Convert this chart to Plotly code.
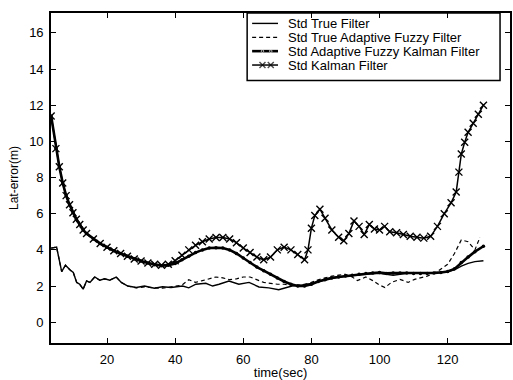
import plotly.graph_objects as go

# ---- data -------------------------------------------------------------
# Std True Filter (thin solid)
t_true = [3.6, 5.2, 6.7, 7.8, 9.1, 10.1, 11.1, 12, 13, 14, 15, 16.4, 17.9, 19.3,
          20.8, 22.7, 24.2, 26.1, 28.6, 31, 33.9, 36.3, 38.8, 42.2, 44, 46.1, 49,
          51, 52.9, 55.8, 58.7, 61.7, 64.6, 67.5, 70.4, 74.3, 77, 80, 84, 88, 92,
          96, 100, 104, 108, 112, 116, 120, 122, 124, 126, 128, 130.5]
std_true = [4.1, 4.15, 2.8, 3.15, 2.9, 2.75, 2.2, 2.1, 1.83, 2.28, 2.2, 2.5, 2.32, 2.4,
            2.32, 2.5, 2.2, 2.0, 1.92, 2.0, 1.88, 1.96, 1.92, 2.0, 1.9, 2.1, 2.15,
            2.0, 2.1, 2.28, 2.1, 2.2, 1.95, 1.9, 1.8, 2.0, 2.05, 2.15, 2.35, 2.5, 2.6,
            2.65, 2.7, 2.6, 2.7, 2.7, 2.75, 2.8, 2.9, 3.1, 3.25, 3.35, 3.4]

# Std True Adaptive Fuzzy Filter (dashed)
t_taff = [3.6, 5.2, 6.7, 7.8, 9.1, 10.1, 11.1, 12, 13, 14, 15, 16.4, 17.9, 19.3,
          20.8, 22.7, 24.2, 26.1, 28.6, 31, 33.9, 36.3, 38.8, 42, 44, 46, 48, 50,
          52, 54, 56, 58, 60, 62, 64, 66, 68, 70, 72, 74, 76, 78, 80, 82, 84, 86,
          88, 90, 92, 93.5, 96, 98, 100, 101.6, 103.5, 106, 108.4, 110.3, 114,
          117, 120, 122, 124, 126, 128, 129.5]
std_taff = [4.1, 4.15, 2.8, 3.15, 2.9, 2.75, 2.2, 2.1, 1.83, 2.28, 2.2, 2.5, 2.32, 2.4,
            2.32, 2.5, 2.2, 2.0, 1.9, 1.95, 1.9, 1.88, 1.95, 2.05, 2.35, 2.2, 2.3, 2.4,
            2.5, 2.45, 2.35, 2.4, 2.5, 2.5, 2.35, 2.2, 2.15, 2.1, 2.1, 2.05, 2.05, 2.1,
            2.2, 2.35, 2.45, 2.55, 2.6, 2.65, 2.5, 2.3, 2.5, 2.3, 2.05, 1.92, 2.2,
            2.37, 2.2, 2.37, 2.55, 2.8, 3.2, 3.8, 4.55, 4.45, 4.0, 4.7]

# Std Adaptive Fuzzy Kalman Filter (thick, dot markers)
t_afkf = [3.6, 5, 6, 7, 8, 9, 10, 11, 12, 13, 14, 16, 18, 20, 22, 24, 26, 28, 30,
          32, 34, 36, 38, 40, 42, 44, 46, 48, 50, 52, 54, 56, 58, 60, 62, 64, 66,
          68, 70, 72, 74, 76, 78, 80, 82, 84, 86, 88, 90, 92, 94, 96, 98, 100, 102,
          104, 106, 108, 110, 112, 114, 116, 118, 120, 122, 124, 126, 128, 130.5]
std_afkf = [11.4, 9.6, 8.6, 7.7, 7.0, 6.5, 6.05, 5.7, 5.4, 5.1, 4.9, 4.6, 4.35, 4.15,
            3.95, 3.8, 3.65, 3.5, 3.38, 3.27, 3.18, 3.12, 3.15, 3.25, 3.45, 3.65,
            3.85, 4.0, 4.1, 4.12, 4.1, 4.0, 3.8, 3.55, 3.3, 3.05, 2.85, 2.65, 2.45,
            2.25, 2.1, 2.0, 2.0, 2.1, 2.25, 2.35, 2.45, 2.5, 2.55, 2.6, 2.65, 2.7,
            2.72, 2.75, 2.7, 2.72, 2.72, 2.72, 2.7, 2.7, 2.7, 2.72, 2.75, 2.8, 2.95,
            3.3, 3.6, 3.9, 4.2]

# Std Kalman Filter (x markers)
t_kf = [3.6, 5, 6, 7, 8, 9, 10, 11, 12, 13, 14, 16, 18, 20, 22, 24, 26, 28, 30, 32,
        34, 36, 38, 40, 42, 44, 46, 48, 50, 52, 54, 56, 58, 60, 62, 64, 66, 68, 70,
        72, 74, 76, 78, 79, 80, 81, 82.5, 84, 86, 88, 89.5, 91, 92.5, 94, 95.5, 97,
        98.5, 100, 101.5, 103, 105, 107, 109, 111, 113, 115, 117, 119, 121, 122.5,
        123.3, 124, 125, 126, 127.5, 129, 130.5]
std_kf = [11.4, 9.6, 8.6, 7.7, 7.0, 6.5, 6.05, 5.7, 5.4, 5.1, 4.9, 4.6, 4.35, 4.15,
          3.95, 3.8, 3.65, 3.5, 3.38, 3.28, 3.2, 3.15, 3.2, 3.4, 3.7, 4.0, 4.25, 4.45,
          4.6, 4.68, 4.68, 4.6, 4.4, 4.1, 3.85, 3.6, 3.45, 3.6, 4.0, 4.15, 4.0, 3.75,
          3.45, 4.0, 5.2, 5.9, 6.25, 5.75, 5.1, 4.7, 4.5, 4.9, 5.6, 5.3, 4.85, 5.4,
          5.15, 5.1, 5.3, 5.0, 4.95, 4.85, 4.75, 4.7, 4.65, 4.75, 5.3, 6.0, 6.6, 7.2,
          8.3, 9.3, 9.95, 10.5, 11.0, 11.5, 12.0]

legend_labels = ["Std True Filter", "Std True Adaptive Fuzzy Filter",
                 "Std Adaptive Fuzzy Kalman Filter", "Std Kalman Filter"]

x_ticks = [20, 40, 60, 80, 100, 120]
y_ticks = [0, 2, 4, 6, 8, 10, 12, 14, 16]

# ---- styles -------------------------------------------------------------
FONT = "Liberation Sans, Arial, sans-serif"
styles = [
    dict(mode="lines", line=dict(color="black", width=1.4)),
    dict(mode="lines", line=dict(color="black", width=1.2, dash="4px,3px")),
    dict(mode="lines+markers", line=dict(color="black", width=2.6),
         marker=dict(symbol="circle", size=3.5, color="black")),
    dict(mode="lines+markers", line=dict(color="black", width=1.5),
         marker=dict(symbol="x-thin-open", size=7,
                     line=dict(color="black", width=1.4))),
]

fig = go.Figure()
series = [(t_true, std_true), (t_taff, std_taff), (t_afkf, std_afkf), (t_kf, std_kf)]
for (tx, vy), name, st in zip(series, legend_labels, styles):
    fig.add_trace(go.Scatter(x=tx, y=vy, name=name, showlegend=False, **st))

# ---- boxed legend in the upper right corner (paper coordinates) ----------
L, R, T, B = 51, 1, 13, 34
W, H = 513 - L - R, 380 - T - B


def px(x):
    return (x - L) / W


def py(y):
    return (380 - B - y) / H


fig.add_shape(type="rect", xref="paper", yref="paper",
              x0=px(248), x1=px(502), y0=py(81), y1=py(13),
              line=dict(color="black", width=1.5), fillcolor="white", layer="below")

row_y = [23.5, 37.5, 51.5, 65.5]
sx0, sx1 = px(253), px(279)
for i, (name, st) in enumerate(zip(legend_labels, styles)):
    yy = py(row_y[i])
    sample = dict(st)
    if "marker" in st:
        xs = [sx0, sx0 + (sx1 - sx0) * 0.4, sx0 + (sx1 - sx0) * 0.72, sx1]
        mk = dict(st["marker"])
        mk["size"] = [0, mk["size"] - 1, mk["size"] - 1, 0]
        sample["marker"] = mk
    else:
        xs = [sx0, sx1]
    fig.add_trace(go.Scatter(x=xs, y=[yy] * len(xs), xaxis="x2", yaxis="y2",
                             showlegend=False, hoverinfo="skip", **sample))
    fig.add_annotation(xref="paper", yref="paper", x=px(288), y=yy, text=name,
                       showarrow=False, xanchor="left", yanchor="middle",
                       borderpad=0, font=dict(family=FONT, size=13, color="black"))

axis_common = dict(showgrid=False, zeroline=False, showline=True, linecolor="black",
                   linewidth=1.6, mirror="ticks", ticks="inside", ticklen=5,
                   tickcolor="black", tickwidth=1,
                   tickfont=dict(family=FONT, size=13, color="black"))

fig.update_layout(
    width=513, height=380,
    margin=dict(l=L, r=R, t=T, b=B),
    paper_bgcolor="white", plot_bgcolor="white",
    xaxis=dict(range=[3.56, 138.3], tickvals=x_ticks, ticklabelstandoff=4,
               title=dict(text="time(sec)", standoff=2,
                          font=dict(family=FONT, size=13, color="black")),
               **axis_common),
    yaxis=dict(range=[-1.15, 17.1], tickvals=y_ticks, ticklabelstandoff=3,
               title=dict(text="Lat-error(m)", standoff=8,
                          font=dict(family=FONT, size=12, color="black")),
               **axis_common),
    xaxis2=dict(overlaying="x", range=[0, 1], visible=False, fixedrange=True),
    yaxis2=dict(overlaying="y", range=[0, 1], visible=False, fixedrange=True),
)

fig.write_html("out.html")
